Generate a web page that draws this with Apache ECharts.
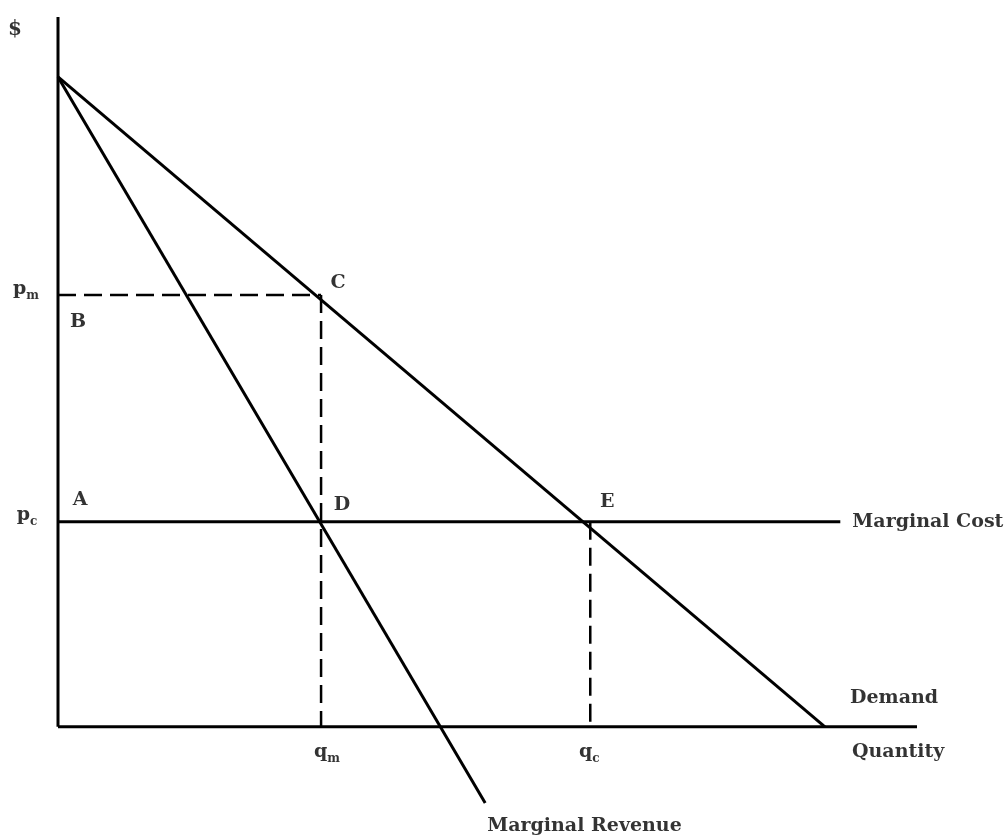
<!DOCTYPE html>
<html>
<head>
<meta charset="utf-8">
<script src="https://cdn.jsdelivr.net/npm/echarts@6/dist/echarts.min.js"></script>
<style>
html,body{margin:0;padding:0;background:#fff;}
#chart{width:1007px;height:836px;}
</style>
</head>
<body>
<div id="chart"></div>
<script>
// Values (quantity units, price units)
const priceIntercept = 99.8;      // demand / MR intercept on the $ axis
const demandQIntercept = 100;     // demand meets the quantity axis
const mrEnd = [55.7, -11.7];      // where the MR line stops below the axis
const pm = 66.3;                  // monopoly price
const pc = 31.5;                  // competitive price (= marginal cost)
const qm = 34.3;                  // monopoly quantity
const qc = 69.4;                  // competitive quantity
const mcEndQ = 102;               // end of the marginal cost line
const axisQMax = 112;             // end of quantity axis
const axisPMax = 109;             // top of $ axis

const demand = [[0, priceIntercept], [demandQIntercept, 0]];
const marginalRevenue = [[0, priceIntercept], mrEnd];
const marginalCost = [[0, pc], [mcEndQ, pc]];
const pmLine = [[0, pm], [qm, pm]];
const qmLine = [[qm, pm], [qm, 0]];
const qcLine = [[qc, pc], [qc, 0]];
const xAxisLine = [[0, 0], [axisQMax, 0]];
const yAxisLine = [[0, 0], [0, axisPMax]];

const FONT = 'DejaVu Serif';
const chart = echarts.init(document.getElementById('chart'), null, {renderer: 'canvas'});

function solid(data, w) {
  return {type: 'line', data: data, showSymbol: false, silent: true,
    lineStyle: {color: '#000', width: w || 3, type: 'solid', cap: 'butt'}, z: 2};
}
function dashed(data) {
  return {type: 'line', data: data, showSymbol: false, silent: true,
    lineStyle: {color: '#000', width: 2.5, type: [18, 8], cap: 'butt'}, z: 1};
}
const baseLabel = {show: true, color: '#000', fontFamily: FONT, fontSize: 19, fontWeight: 'bold'};
function lab(pt, text, offset, align, extra) {
  return {value: pt, label: Object.assign({}, baseLabel, {formatter: text, position: 'inside',
    offset: offset, align: align || 'center', verticalAlign: 'middle'}, extra || {})};
}
const subRich = {
  p: {fontFamily: FONT, fontSize: 19, fontWeight: 'bold', color: '#000', lineHeight: 22, verticalAlign: 'bottom'},
  s: {fontFamily: FONT, fontSize: 12, color: '#000', lineHeight: 22, verticalAlign: 'bottom', padding: [0, 0, -3, 0]}
};

const labels = [
  lab([0, axisPMax], '$', [-43, 13], 'center', {fontSize: 20}),
  lab([0, pm], '{p|p}{s|m}', [-32, -7], 'center', {rich: subRich}),
  lab([0, pm], 'B', [20, 27]),
  lab([qm, pm], 'C', [17, -12]),
  lab([0, pc], '{p|p}{s|c}', [-31, -8], 'center', {rich: subRich}),
  lab([0, pc], 'A', [22, -22]),
  lab([qm, pc], 'D', [21, -17]),
  lab([qc, pc], 'E', [17, -20]),
  lab([mcEndQ, pc], 'Marginal Cost', [12, 0], 'left'),
  lab([demandQIntercept, 0], 'Demand', [25, -29], 'left'),
  lab([demandQIntercept, 0], 'Quantity', [27, 25], 'left'),
  lab([qm, 0], '{p|q}{s|m}', [6, 24], 'center', {rich: subRich}),
  lab([qc, 0], '{p|q}{s|c}', [-1, 24], 'center', {rich: subRich}),
  lab(mrEnd, 'Marginal Revenue', [2, 23], 'left')
];

chart.setOption({
  animation: false,
  backgroundColor: '#fff',
  grid: {left: 58, right: 90, top: 17, bottom: 5, containLabel: false},
  xAxis: {type: 'value', min: 0, max: axisQMax, show: false},
  yAxis: {type: 'value', min: -16, max: axisPMax, show: false},
  series: [
    solid(yAxisLine, 3),
    solid(xAxisLine, 3),
    solid(demand, 3),
    solid(marginalRevenue, 3),
    solid(marginalCost, 3),
    dashed(pmLine),
    dashed(qmLine),
    dashed(qcLine),
    {type: 'scatter', data: labels, symbolSize: 1, itemStyle: {color: 'rgba(0,0,0,0)'}, silent: true, z: 5}
  ]
});
</script>
</body>
</html>
